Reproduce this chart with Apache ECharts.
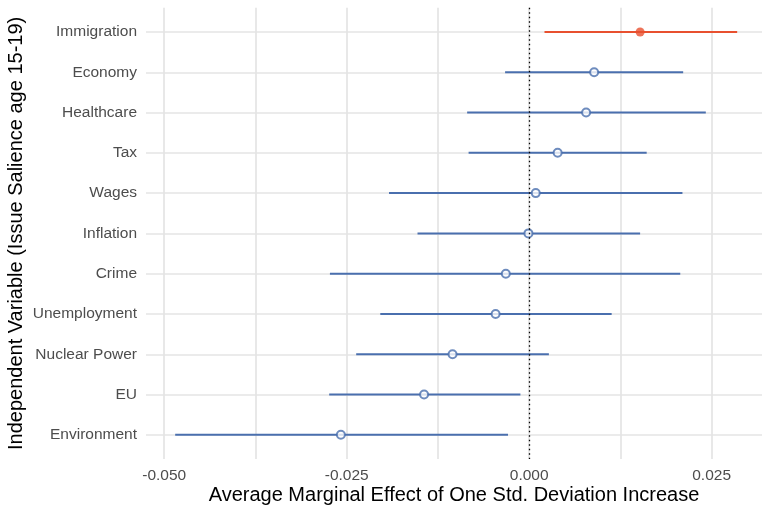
<!DOCTYPE html>
<html>
<head>
<meta charset="utf-8">
<script src="https://cdn.jsdelivr.net/npm/echarts@6/dist/echarts.min.js"></script>
<style>
  html, body { margin: 0; padding: 0; background: #fff; }
  #chart { width: 762px; height: 506px; }
</style>
</head>
<body>
<div id="chart"></div>
<script>
// issues, top to bottom
const categories = ['Immigration', 'Economy', 'Healthcare', 'Tax', 'Wages', 'Inflation',
  'Crime', 'Unemployment', 'Nuclear Power', 'EU', 'Environment']
const estimates = [0.0152, 0.0089, 0.0078, 0.0039, 0.0009, -0.0001, -0.0032, -0.0046, -0.0105, -0.0144, -0.0258]
const lower = [0.0021, -0.0033, -0.0085, -0.0083, -0.0192, -0.0153, -0.0273, -0.0204, -0.0237, -0.0274, -0.0485]
const upper = [0.0285, 0.0211, 0.0242, 0.0161, 0.0210, 0.0152, 0.0207, 0.0113, 0.0027, -0.0012, -0.0029]
const significant = [true, false, false, false, false, false, false, false, false, false, false]
const xTickLabels = [-0.05, -0.025, 0, 0.025]
const xGridLines = [-0.05, -0.0375, -0.025, -0.0125, 0, 0.0125, 0.025]

const blue = '#4a6fae'
const red = '#e8502f'
const gridColor = '#e4e4e4'
const font = '"Liberation Sans", Arial, sans-serif'

const idx = categories.map((c, i) => i)

const barData = idx.map((i) => ({
  value: [lower[i], upper[i], i],
  itemStyle: { color: significant[i] ? red : blue },
}))
const pointData = idx.map((i) => ({
  value: [estimates[i], i],
  symbol: significant[i] ? 'circle' : 'emptyCircle',
  symbolSize: significant[i] ? 9 : 8,
  itemStyle: significant[i]
    ? { color: red }
    : { color: blue, borderColor: blue, borderWidth: 1.4 },
}))

let chart = echarts.init(document.getElementById('chart'))
let option = {
  animation: false,
  grid: { left: 146, right: 0, top: 7.8, bottom: 47, outerBoundsMode: 'none', containLabel: false },
  xAxis: {
    type: 'value',
    min: -0.0525,
    max: 0.0319,
    name: 'Average Marginal Effect of One Std. Deviation Increase',
    nameLocation: 'middle',
    nameGap: 26,
    nameMoveOverlap: false,
    nameTextStyle: { fontFamily: font, fontSize: 20, color: '#000' },
    axisLine: { show: false },
    axisTick: { show: false, customValues: xGridLines },
    axisLabel: {
      customValues: xTickLabels,
      formatter: (v) => v.toFixed(3),
      fontFamily: font,
      fontSize: 15.5,
      color: '#4d4d4d',
      margin: 9,
    },
    splitLine: { show: true, lineStyle: { color: gridColor, width: 1.7 } },
  },
  yAxis: {
    type: 'value',
    inverse: true,
    min: -0.6,
    max: 10.6,
    name: 'Independent Variable (Issue Salience age 15-19)',
    nameLocation: 'middle',
    nameGap: 120,
    nameMoveOverlap: false,
    nameTextStyle: { fontFamily: font, fontSize: 20, color: '#000' },
    axisLine: { show: false },
    axisTick: { show: false, customValues: idx },
    axisLabel: {
      customValues: idx,
      formatter: (v) => categories[Math.round(v)],
      fontFamily: font,
      fontSize: 15.5,
      color: '#4d4d4d',
      margin: 9,
    },
    splitLine: { show: true, lineStyle: { color: gridColor, width: 1.7 } },
  },
  series: [
    {
      type: 'custom',
      data: barData,
      encode: { x: [0, 1], y: 2 },
      renderItem(params, api) {
        const y = api.value(2)
        const s = api.coord([api.value(0), y])
        const e = api.coord([api.value(1), y])
        return {
          type: 'line',
          shape: { x1: s[0], y1: s[1], x2: e[0], y2: e[1] },
          style: { stroke: api.visual('color'), lineWidth: 2 },
        }
      },
      z: 2,
    },
    {
      type: 'scatter',
      data: pointData,
      z: 3,
      markLine: {
        silent: true,
        symbol: 'none',
        label: { show: false },
        lineStyle: { color: '#000', width: 1.3, type: [1.5, 3] },
        data: [{ xAxis: 0 }],
        z: 5,
      },
    },
  ],
}
chart.setOption(option)
</script>
</body>
</html>
